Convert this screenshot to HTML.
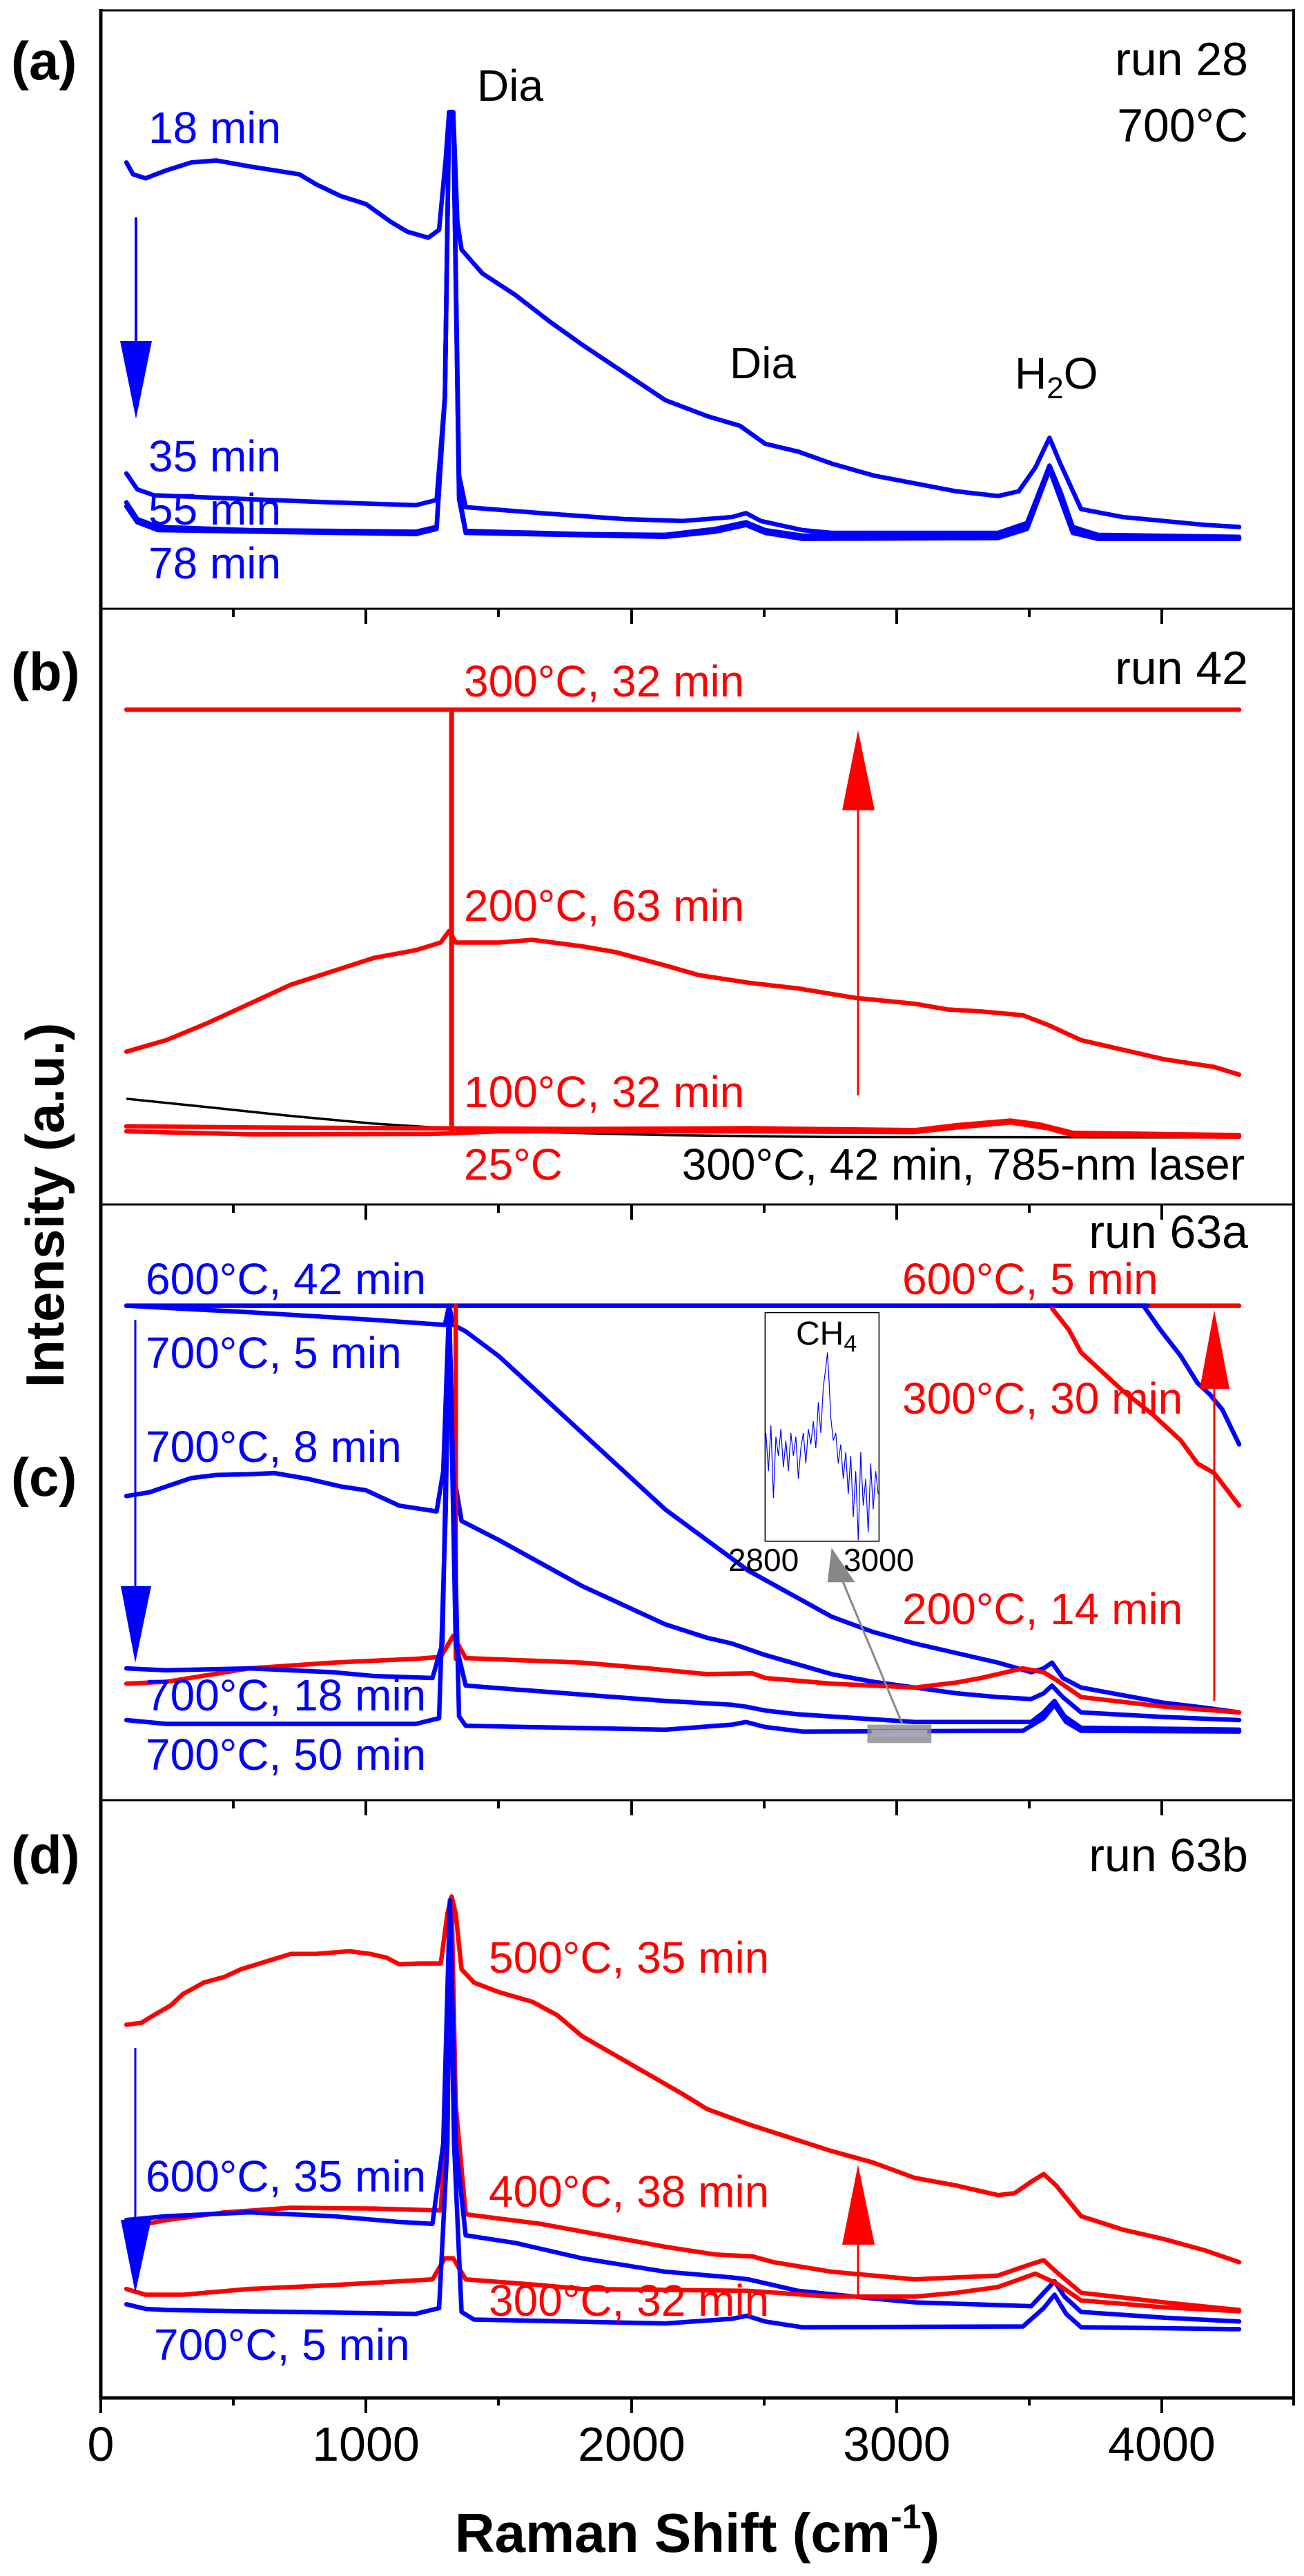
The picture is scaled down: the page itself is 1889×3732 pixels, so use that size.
<!DOCTYPE html>
<html><head><meta charset="utf-8"><style>
html,body{margin:0;padding:0;background:#fff;}
svg{display:block;}
text{font-family:"Liberation Sans",Arial,sans-serif;}
</style></head><body>
<svg width="1889" height="3732" viewBox="0 0 1889 3732" xmlns="http://www.w3.org/2000/svg">
<rect width="1889" height="3732" fill="#fff"/>
<defs>
<style>
.c{fill:none;stroke-width:6.5;stroke-linejoin:round;stroke-linecap:round;vector-effect:non-scaling-stroke;}
.b{stroke:#0000ff;} .r{stroke:#ff0000;} .k{stroke:#000;}
</style>
</defs>

<g stroke="#000" fill="none">
<line x1="146" y1="15" x2="1874" y2="15" stroke-width="3"/>
<line x1="146" y1="882" x2="1874" y2="882" stroke-width="3"/>
<line x1="146" y1="1745" x2="1874" y2="1745" stroke-width="3"/>
<line x1="146" y1="2608" x2="1874" y2="2608" stroke-width="3"/>
<line x1="144" y1="3474" x2="1876" y2="3474" stroke-width="5"/>
<line x1="146" y1="13" x2="146" y2="3476" stroke-width="5"/>
<line x1="1874" y1="13" x2="1874" y2="3476" stroke-width="4"/>
</g>
<g stroke="#000" stroke-width="4">
<path d="M146 882v22M530 882v22M915 882v22M1299 882v22M1683 882v22M338 882v12M722 882v12M1107 882v12M1491 882v12"/>
<path d="M146 1745v22M530 1745v22M915 1745v22M1299 1745v22M1683 1745v22M338 1745v12M722 1745v12M1107 1745v12M1491 1745v12"/>
<path d="M146 2608v22M530 2608v22M915 2608v22M1299 2608v22M1683 2608v22M338 2608v12M722 2608v12M1107 2608v12M1491 2608v12"/>
<path d="M146 3474v22M530 3474v22M915 3474v22M1299 3474v22M1683 3474v22M338 3474v11M722 3474v11M1107 3474v11M1491 3474v11M1874 3474v11"/>
</g>

<g font-size="70" text-anchor="middle" fill="#000">
<text x="146" y="3565">0</text>
<text x="530" y="3565">1000</text>
<text x="915" y="3565">2000</text>
<text x="1299" y="3565">3000</text>
<text x="1683" y="3565">4000</text>
</g>
<text x="1010" y="3697" font-size="80" font-weight="bold" text-anchor="middle">Raman Shift (cm<tspan font-size="50" dy="-34">-1</tspan><tspan dy="34">)</tspan></text>
<text transform="translate(92,1746) rotate(-90)" font-size="78" font-weight="bold" text-anchor="middle">Intensity (a.u.)</text>

<g font-size="78" font-weight="bold">
<text x="16" y="115">(a)</text>
<text x="16" y="1000">(b)</text>
<text x="16" y="2167">(c)</text>
<text x="16" y="2714">(d)</text>
</g>

<!-- Panel (a) -->
<g transform="translate(0,0) scale(1.2047,0.574)">
<path class="c b" d="M152 410 L160 440 L175 450 L200 430 L230 410 L260 405 L300 420 L330 430 L360 440 L380 465 L410 495 L440 515 L470 560 L490 585 L515 600 L528 580 L536 400 L540 283 L545 283 L550 560 L555 630 L580 690 L620 745 L660 810 L700 870 L750 940 L800 1010 L850 1050 L890 1075 L920 1120 L960 1140 L1000 1170 L1050 1200 L1100 1220 L1150 1240 L1200 1252 L1225 1240 L1245 1180 L1262 1105 L1275 1170 L1300 1285 L1350 1305 L1400 1315 L1450 1325 L1490 1330"/>
<path class="c b" d="M152 1195 L165 1235 L185 1250 L300 1260 L400 1268 L500 1275 L525 1262 L535 1000 L540 283 L545 283 L552 1200 L560 1280 L650 1295 L750 1310 L820 1315 L880 1305 L897 1295 L915 1315 L965 1338 L1000 1345 L1200 1345 L1235 1320 L1250 1240 L1262 1175 L1275 1240 L1290 1330 L1320 1350 L1490 1355"/>
<path class="c b" d="M152 1268 L165 1310 L190 1330 L300 1338 L500 1342 L525 1330 L535 1000 L540 283 L545 283 L552 1250 L560 1340 L700 1348 L800 1350 L860 1335 L897 1318 L920 1338 L965 1352 L1200 1352 L1235 1330 L1250 1240 L1262 1178 L1275 1245 L1290 1340 L1320 1355 L1490 1358"/>
<path class="c b" d="M152 1278 L165 1318 L190 1338 L500 1348 L525 1335 L535 1000 L540 283 L545 283 L552 1260 L560 1345 L800 1355 L860 1342 L897 1325 L920 1345 L965 1360 L1200 1358 L1235 1335 L1262 1185 L1290 1345 L1320 1360 L1490 1360"/>
</g>
<line x1="197" y1="315" x2="197" y2="500" stroke="#0000ff" stroke-width="4"/>
<polygon points="174,494 220,494 197,607" fill="#0000ff"/>
<g font-size="64" fill="#0000ff">
<text x="215" y="207">18 min</text>
<text x="215" y="683">35 min</text>
<text x="215" y="760">55 min</text>
<text x="215" y="838">78 min</text>
</g>
<g font-size="64" fill="#000">
<text x="691" y="146">Dia</text>
<text x="1057" y="548">Dia</text>
<text x="1470" y="563">H<tspan font-size="44" dy="14">2</tspan><tspan dy="-14">O</tspan></text>
<text x="1808" y="109" font-size="68" text-anchor="end">run 28</text>
<text x="1808" y="205" font-size="68" text-anchor="end">700°C</text>
</g>

<!-- Panel (b) -->
<g transform="translate(0,880) scale(1.2047,0.5548)">
<path class="c r" d="M152 267 L1490 267"/>
<path fill="none" stroke="#ff0000" stroke-width="7" vector-effect="non-scaling-stroke" d="M543 267 L543 1372"/>
<path class="c r" d="M152 1160 L200 1130 L250 1085 L300 1035 L350 985 L400 950 L450 915 L500 895 L530 875 L540 845 L548 875 L600 875 L640 868 L700 885 L740 900 L800 935 L840 960 L900 980 L960 995 L1030 1020 L1100 1035 L1140 1050 L1180 1055 L1230 1065 L1260 1090 L1300 1130 L1350 1155 L1400 1180 L1460 1200 L1490 1220"/>
<path class="k" fill="none" stroke-width="3.5" vector-effect="non-scaling-stroke" d="M152 1283 L250 1305 L350 1328 L450 1348 L550 1362 L650 1370 L800 1378 L1000 1383 L1490 1384"/>
<path class="c r" d="M152 1355 L300 1358 L500 1360 L700 1362 L900 1360 L1100 1365 L1150 1352 L1215 1340 L1250 1350 L1290 1372 L1490 1378"/>
<path class="c r" d="M152 1368 L300 1376 L520 1375 L600 1368 L900 1368 L1100 1370 L1150 1358 L1215 1345 L1260 1360 L1290 1378 L1490 1382"/>
</g>
<line x1="1243" y1="1160" x2="1243" y2="1587" stroke="#ff0000" stroke-width="3"/>
<polygon points="1220,1174 1267,1174 1243,1058" fill="#ff0000"/>
<g font-size="64" fill="#ff0000">
<text x="672" y="1009">300°C, 32 min</text>
<text x="672" y="1334">200°C, 63 min</text>
<text x="672" y="1604">100°C, 32 min</text>
<text x="672" y="1709">25°C</text>
</g>
<text x="1803" y="1709" font-size="64" text-anchor="end">300°C, 42 min, 785-nm laser</text>
<text x="1808" y="991" font-size="68" text-anchor="end">run 42</text>

<!-- Panel (c) -->
<g transform="translate(0,1743) scale(1.2047,0.5548)">
<path class="c r" d="M1200 268 L1490 268"/>
<path class="c b" d="M152 268 L1380 268"/>
<path class="c r" d="M1265 275 L1285 330 L1300 390 L1325 440 L1350 490 L1385 550 L1420 620 L1440 680 L1460 705 L1490 790"/>
<path class="c b" d="M1375 268 L1395 330 L1420 400 L1440 470 L1455 500 L1470 540 L1490 630"/>
<path class="c b" d="M152 268 L300 285 L450 305 L535 318 L540 268 L545 318 L560 335 L600 400 L650 500 L700 600 L750 700 L800 800 L850 880 L900 960 L950 1020 L1000 1080 L1050 1120 L1100 1150 L1150 1175 L1200 1200 L1240 1225 L1255 1215 L1265 1200 L1278 1240 L1300 1265 L1350 1285 L1400 1305 L1450 1318 L1490 1330"/>
<path class="c b" d="M152 765 L180 755 L200 740 L230 718 L260 710 L300 708 L330 705 L370 720 L410 740 L440 750 L465 775 L480 790 L525 805 L533 700 L540 268 L545 700 L555 830 L600 880 L650 940 L700 1000 L750 1050 L800 1100 L850 1135 L880 1150 L920 1180 L1000 1230 L1050 1250 L1100 1265 L1150 1280 L1200 1290 L1240 1295 L1255 1280 L1265 1260 L1278 1290 L1300 1330 L1400 1342 L1490 1350"/>
<path class="c r" d="M548 268 L548 1190"/>
<path class="c r" d="M152 1255 L200 1250 L300 1215 L400 1200 L500 1190 L530 1185 L545 1130 L560 1188 L700 1200 L780 1215 L850 1230 L905 1228 L920 1240 L1000 1255 L1100 1265 L1150 1252 L1180 1240 L1230 1215 L1255 1225 L1270 1245 L1300 1290 L1400 1315 L1490 1330"/>
<path class="c b" d="M152 1215 L200 1220 L300 1215 L400 1225 L450 1235 L520 1240 L532 1150 L540 268 L548 1150 L560 1260 L650 1275 L800 1300 L880 1310 L897 1315 L920 1325 L960 1335 L1100 1355 L1240 1355 L1255 1330 L1268 1300 L1280 1340 L1300 1370 L1490 1375"/>
<path class="c b" d="M152 1350 L200 1360 L500 1360 L528 1345 L536 800 L540 268 L546 800 L552 1340 L560 1365 L800 1375 L880 1362 L897 1355 L920 1368 L965 1380 L1230 1378 L1255 1345 L1268 1310 L1282 1355 L1300 1378 L1490 1380"/>
<rect x="920" y="286" width="137" height="597" fill="#fff" stroke="#000" stroke-width="1.5" vector-effect="non-scaling-stroke"/>
<path fill="none" stroke="#0000ff" stroke-width="1.2" vector-effect="non-scaling-stroke" d="M921 600 L924 700 L927 580 L930 770 L933 610 L936 660 L939 590 L942 690 L945 620 L948 700 L951 600 L954 660 L957 610 L960 720 L963 640 L966 600 L969 680 L972 590 L975 630 L978 570 L981 640 L984 520 L987 600 L990 480 L993 430 L995 390 L997 470 L999 560 L1002 620 L1005 600 L1008 680 L1011 630 L1014 720 L1017 650 L1020 760 L1023 660 L1026 820 L1029 700 L1032 880 L1035 650 L1038 790 L1041 720 L1044 860 L1047 680 L1050 800 L1053 700 L1056 760"/>
<rect x="1043" y="1362" width="77" height="48" fill="#888" fill-opacity="0.8"/>
<rect x="1048" y="1375" width="67" height="18" fill="#aab" fill-opacity="0.9"/>
<line x1="1085" y1="1360" x2="1008" y2="960" stroke="#888" stroke-width="3" vector-effect="non-scaling-stroke"/>
<polygon points="1000,900 995,990 1028,990" fill="#888"/>
</g>
<line x1="196" y1="1912" x2="196" y2="2300" stroke="#0000ff" stroke-width="3"/>
<polygon points="175,2298 219,2298 196,2409" fill="#0000ff"/>
<line x1="1759" y1="2000" x2="1759" y2="2464" stroke="#ff0000" stroke-width="3"/>
<polygon points="1738,2012 1781,2012 1759,1898" fill="#ff0000"/>
<g font-size="64" fill="#0000ff">
<text x="211" y="1875">600°C, 42 min</text>
<text x="211" y="1982">700°C, 5 min</text>
<text x="211" y="2118">700°C, 8 min</text>
<text x="211" y="2478">700°C, 18 min</text>
<text x="211" y="2564">700°C, 50 min</text>
</g>
<g font-size="64" fill="#ff0000">
<text x="1307" y="1875">600°C, 5 min</text>
<text x="1307" y="2048">300°C, 30 min</text>
<text x="1307" y="2353">200°C, 14 min</text>
</g>
<text x="1808" y="1808" font-size="68" text-anchor="end">run 63a</text>
<text x="1153" y="1948" font-size="48">CH<tspan font-size="34" dy="10">4</tspan></text>
<text x="1106" y="2276" font-size="46" text-anchor="middle">2800</text>
<text x="1273" y="2276" font-size="46" text-anchor="middle">3000</text>

<!-- Panel (d) -->
<g transform="translate(0,2606) scale(1.2047,0.5548)">
<path class="c r" d="M152 590 L170 585 L185 565 L205 540 L220 510 L245 480 L270 465 L290 445 L320 425 L350 405 L380 405 L420 398 L445 405 L465 415 L480 432 L505 430 L530 430 L538 300 L543 255 L548 300 L555 445 L570 480 L600 505 L640 530 L670 565 L700 620 L740 670 L780 720 L820 770 L850 810 L900 850 L950 885 L1000 920 L1050 950 L1100 990 L1150 1010 L1200 1035 L1220 1030 L1240 1000 L1255 980 L1270 1010 L1300 1090 L1350 1125 L1400 1150 L1450 1180 L1490 1210"/>
<path class="c r" d="M152 1120 L200 1100 L270 1080 L350 1068 L450 1070 L530 1075 L538 800 L543 260 L548 800 L560 1085 L650 1110 L700 1130 L800 1170 L860 1190 L905 1195 L930 1210 L1000 1235 L1100 1255 L1200 1245 L1240 1215 L1255 1205 L1270 1235 L1300 1290 L1400 1315 L1490 1335"/>
<path class="c b" d="M152 1100 L200 1090 L300 1080 L400 1090 L480 1105 L520 1110 L533 900 L541 265 L548 900 L560 1140 L620 1160 L700 1200 L800 1235 L880 1250 L900 1255 L930 1270 L960 1285 L1050 1305 L1100 1315 L1240 1325 L1255 1290 L1268 1260 L1280 1300 L1300 1340 L1400 1355 L1490 1365"/>
<path class="c r" d="M152 1280 L175 1295 L220 1295 L300 1280 L400 1270 L520 1255 L535 1200 L545 1200 L560 1255 L650 1270 L700 1280 L900 1285 L1000 1300 L1100 1300 L1150 1290 L1200 1275 L1245 1240 L1270 1265 L1300 1310 L1400 1328 L1490 1338"/>
<path class="c b" d="M152 1320 L175 1332 L200 1335 L500 1345 L528 1330 L538 900 L541 265 L546 900 L555 1340 L570 1360 L800 1370 L880 1358 L898 1350 L920 1365 L965 1380 L1230 1378 L1255 1330 L1268 1295 L1282 1345 L1300 1380 L1490 1385"/>
</g>
<line x1="196" y1="2967" x2="196" y2="3220" stroke="#0000ff" stroke-width="3"/>
<polygon points="175,3216 219,3216 196,3322" fill="#0000ff"/>
<line x1="1243" y1="3245" x2="1243" y2="3324" stroke="#ff0000" stroke-width="3"/>
<polygon points="1220,3252 1267,3252 1243,3136" fill="#ff0000"/>
<g font-size="64" fill="#ff0000">
<text x="708" y="2858">500°C, 35 min</text>
<text x="708" y="3197">400°C, 38 min</text>
<text x="708" y="3355">300°C, 32 min</text>
</g>
<g font-size="64" fill="#0000ff">
<text x="211" y="3175">600°C, 35 min</text>
<text x="223" y="3419">700°C, 5 min</text>
</g>
<text x="1808" y="2711" font-size="68" text-anchor="end">run 63b</text>
</svg>
</body></html>
